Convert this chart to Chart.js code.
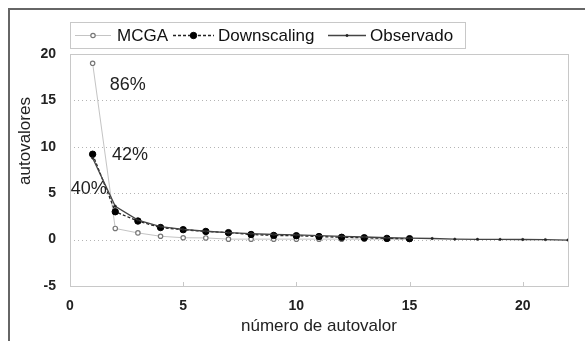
<!DOCTYPE html>
<html>
<head>
<meta charset="utf-8">
<script src="https://cdn.jsdelivr.net/npm/chart.js@4/dist/chart.umd.min.js"></script>
<style>
html,body{margin:0;padding:0;background:#fff;}
#wrap{position:relative;width:585px;height:341px;}
</style>
</head>
<body>
<div id="wrap"><canvas id="c" width="585" height="341"></canvas></div>
<script>
// ---- data ----
const mcgaX = [1,2,3,4,5,6,7,8,9,10,11,12,13,14,15];
const mcga = [19.0,1.2,0.72,0.36,0.2,0.18,0.05,0.05,0.05,0.05,0.05,0.05,0.04,0.04,0.04];
const downX = [1,2,3,4,5,6,7,8,9,10,11,12,13,14,15];
const downscaling = [9.2,3.0,2.0,1.3,1.07,0.88,0.75,0.55,0.45,0.42,0.33,0.25,0.2,0.13,0.1];
const obsX = [1,2,3,4,5,6,7,8,9,10,11,12,13,14,15,16,17,18,19,20,21,22];
const observado = [8.8,3.6,2.1,1.4,1.1,0.9,0.75,0.65,0.55,0.5,0.42,0.35,0.28,0.2,0.15,0.12,0.05,0.03,0.02,0.01,0.0,-0.05];
const yTicks = [-5,0,5,10,15,20];
const xTicks = [0,5,10,15,20];
const gridValues = [0,5,10,15];
const notes = [
  {text:'86%', x:1.76, y:16.7},
  {text:'42%', x:1.85, y:9.1},
  {text:'40%', x:0.03, y:5.5}
];
const yTitle = 'autovalores';

const pts = (xs, ys) => xs.map((x,i)=>({x:x, y:ys[i]}));
const FONT = "'Liberation Sans', Arial, sans-serif";

const framePlugin = {
  id:'frame',
  beforeDraw(chart){
    const ctx = chart.ctx;
    ctx.save();
    ctx.fillStyle = '#fff';
    ctx.fillRect(0,0,chart.width,chart.height);
    ctx.strokeStyle = '#666';
    ctx.lineWidth = 2;
    ctx.beginPath();
    ctx.moveTo(9, chart.height);
    ctx.lineTo(9, 9);
    ctx.lineTo(chart.width, 9);
    ctx.stroke();
    ctx.restore();
  },
  beforeDatasetsDraw(chart){
    const ctx = chart.ctx, a = chart.chartArea, ys = chart.scales.y;
    ctx.save();
    ctx.strokeStyle = '#b4b4b4';
    ctx.lineWidth = 1;
    ctx.setLineDash([1,3]);
    gridValues.forEach(v=>{
      const py = Math.round(ys.getPixelForValue(v))+0.5;
      ctx.beginPath();
      ctx.moveTo(a.left, py);
      ctx.lineTo(a.right, py);
      ctx.stroke();
    });
    ctx.restore();
  },
  afterDatasetsDraw(chart){
    const ctx = chart.ctx, a = chart.chartArea;
    const xs = chart.scales.x, ys = chart.scales.y;
    ctx.save();
    ctx.strokeStyle = '#c8c8c8';
    ctx.lineWidth = 1;
    ctx.strokeRect(Math.round(a.left)+0.5, Math.round(a.top)+0.5, Math.round(a.right-a.left), Math.round(a.bottom-a.top));
    xTicks.forEach(v=>{
      if (v===0) return;
      const px = Math.round(xs.getPixelForValue(v))+0.5;
      ctx.beginPath();
      ctx.moveTo(px, a.bottom);
      ctx.lineTo(px, a.bottom-4);
      ctx.stroke();
    });
    // y axis title
    ctx.save();
    ctx.translate(25, 141);
    ctx.rotate(-Math.PI/2);
    ctx.fillStyle = '#222';
    ctx.font = '17px ' + FONT;
    ctx.textAlign = 'center';
    ctx.textBaseline = 'middle';
    ctx.fillText(yTitle, 0, 0);
    ctx.restore();
    // annotations
    ctx.fillStyle = '#222';
    ctx.font = '18px ' + FONT;
    ctx.textBaseline = 'middle';
    ctx.textAlign = 'left';
    notes.forEach(n=>{
      ctx.fillText(n.text, xs.getPixelForValue(n.x), ys.getPixelForValue(n.y));
    });
    // legend
    ctx.fillStyle = '#fff';
    ctx.fillRect(70.5, 22.5, 395, 26);
    ctx.strokeStyle = '#c8c8c8';
    ctx.strokeRect(70.5, 22.5, 395, 26);
    const ly = 35.5;
    const items = [
      {ds:0, x0:75, x1:111, tx:117},
      {ds:1, x0:173, x1:214, tx:218},
      {ds:2, x0:328, x1:366, tx:370}
    ];
    items.forEach(it=>{
      const d = chart.data.datasets[it.ds];
      ctx.save();
      ctx.strokeStyle = d.borderColor;
      ctx.lineWidth = d.borderWidth;
      ctx.setLineDash(d.borderDash || []);
      ctx.beginPath();
      ctx.moveTo(it.x0, ly); ctx.lineTo(it.x1, ly);
      ctx.stroke();
      ctx.setLineDash([]);
      const mx = (it.x0+it.x1)/2;
      ctx.beginPath();
      ctx.arc(mx, ly, d.pointRadius, 0, Math.PI*2);
      ctx.fillStyle = d.pointBackgroundColor;
      ctx.fill();
      ctx.lineWidth = d.pointBorderWidth;
      ctx.strokeStyle = d.pointBorderColor;
      ctx.stroke();
      ctx.restore();
      ctx.fillStyle = '#111';
      ctx.font = '17px ' + FONT;
      ctx.textBaseline = 'middle';
      ctx.fillText(d.label, it.tx, ly+1);
    });
    ctx.restore();
  }
};

new Chart(document.getElementById('c'), {
  type:'line',
  data:{
    datasets:[
      {label:'MCGA', data:pts(mcgaX,mcga), borderColor:'#c4c4c4', borderWidth:1,
       pointRadius:2.2, pointBackgroundColor:'#fff', pointBorderColor:'#777', pointBorderWidth:1.2, tension:0, order:3},
      {label:'Downscaling', data:pts(downX,downscaling), borderColor:'#222', borderWidth:1.3, borderDash:[3,2],
       pointRadius:3.2, pointBackgroundColor:'#000', pointBorderColor:'#000', pointBorderWidth:1, tension:0, order:2},
      {label:'Observado', data:pts(obsX,observado), borderColor:'#444', borderWidth:1.3,
       pointRadius:1.2, pointBackgroundColor:'#222', pointBorderColor:'#222', pointBorderWidth:0.5, tension:0, order:1}
    ]
  },
  options:{
    responsive:false,
    animation:false,
    layout:{padding:{left:0,right:17,top:54,bottom:0}},
    plugins:{legend:{display:false}, tooltip:{enabled:false}},
    scales:{
      x:{
        type:'linear', min:0, max:22,
        afterFit(s){ s.height = 55; },
        afterBuildTicks(s){ s.ticks = xTicks.map(v=>({value:v})); },
        grid:{display:false, drawTicks:false},
        border:{display:false},
        ticks:{padding:12, color:'#222', font:{family:FONT, size:14, weight:'bold'}},
        title:{display:true, text:'número de autovalor', color:'#222', font:{family:FONT, size:17}, padding:{top:0,bottom:4}}
      },
      y:{
        type:'linear', min:-5, max:20,
        afterFit(s){ s.width = 70; },
        afterBuildTicks(s){ s.ticks = yTicks.map(v=>({value:v})); },
        grid:{display:false, drawTicks:false},
        border:{display:false},
        ticks:{padding:14, color:'#222', font:{family:FONT, size:14, weight:'bold'}},
        title:{display:false}
      }
    }
  },
  plugins:[framePlugin]
});
</script>
</body>
</html>
